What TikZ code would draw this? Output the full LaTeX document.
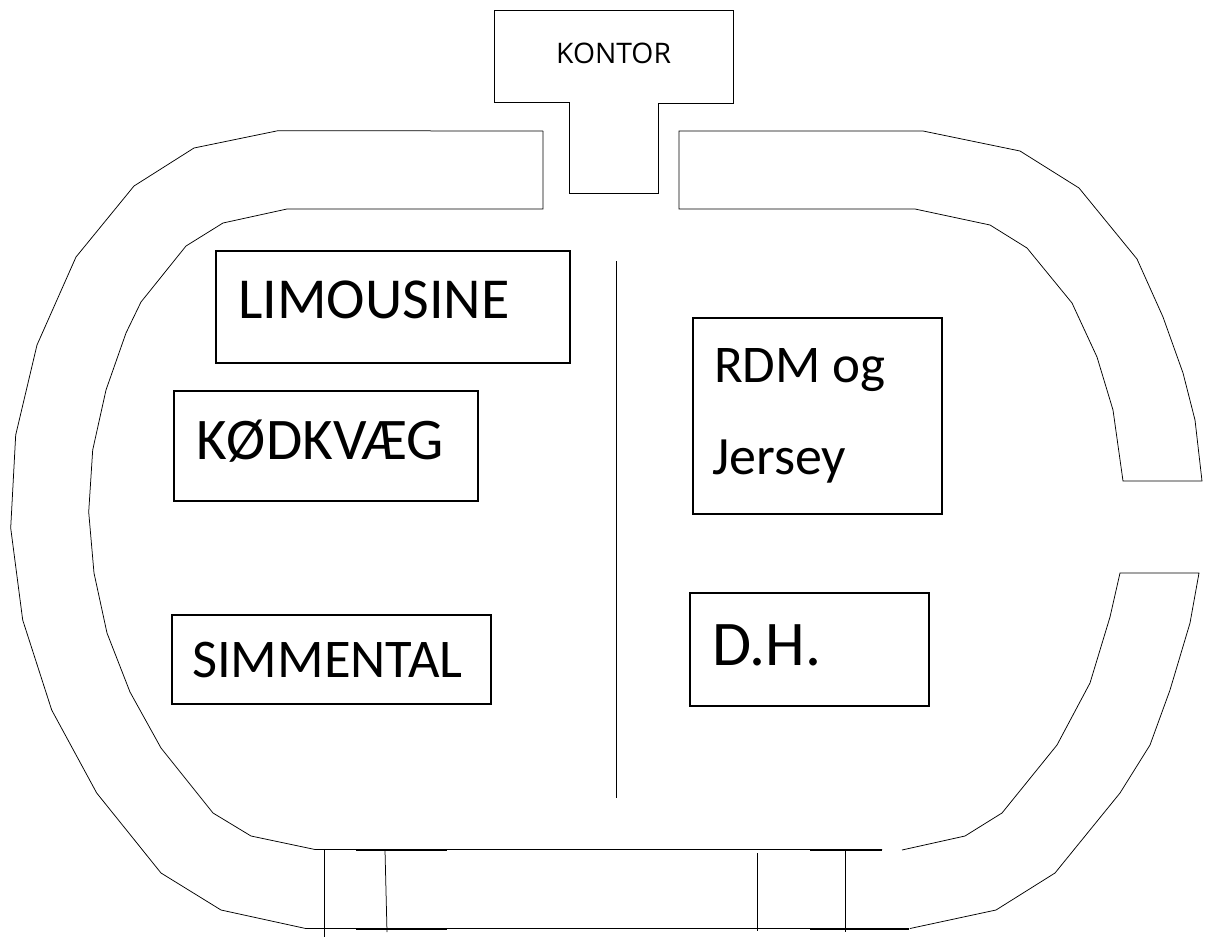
\documentclass[tikz,border=0pt]{standalone}
\usepackage{fontspec}
\setmainfont{Carlito}
\newfontfamily\kontorfont{Open Sans}
\tikzset{plan/.style={draw=black,line width=0.75pt,line join=miter},
boxline/.style={draw=black,line width=1.1pt,line join=miter},
thickseg/.style={draw=black,line width=2pt},
lab/.style={anchor=base west,inner sep=0pt,text=black}}
\begin{document}
\begin{tikzpicture}[x=1pt,y=-1pt]
\useasboundingbox (0,0) rectangle (1208,937);
\path[fill=white] (0,0) rectangle (1208,937);
\draw[plan] (494,10.5) -- (733,10.5) -- (733,103) -- (658,103) -- (658,193.5) -- (569,193.5) -- (569,102) -- (494,102) -- cycle;
\draw[plan] (543,131) -- (278,130.7) -- (194,148) -- (134,186) -- (76,257) -- (37,345) -- (15.7,435) -- (10.7,528) -- (22.7,620) -- (51.7,710) -- (96.7,793) -- (161,873) -- (221,910) -- (305.7,928.5) -- (909,928.5);
\draw[plan] (543,131) -- (543,209) -- (287,209) -- (223,223) -- (186,246) -- (141,302) -- (126,333) -- (106,390) -- (92.7,450) -- (88.7,512) -- (94,573) -- (107,633) -- (130,692) -- (161,748) -- (213,813) -- (251,836) -- (315,849.5) -- (882,849.5);
\draw[plan] (902,850) -- (965,836) -- (1002,813) -- (1057,745) -- (1090,683) -- (1110,617) -- (1120,573) -- (1199,573) -- (1190,623) -- (1170,690) -- (1150,745) -- (1120,793) -- (1055,873) -- (996,910) -- (910,928.5);
\draw[thickseg] (356,849.5) -- (447,849.5);
\draw[thickseg] (810,849.5) -- (882,849.5);
\draw[thickseg] (356,928.5) -- (447,928.5);
\draw[thickseg] (810,928.5) -- (909,928.5);
\draw[plan] (679,131) -- (923,131) -- (1020,151) -- (1079,188) -- (1137,259) -- (1163,317) -- (1183,373) -- (1195,420) -- (1202,481) -- (1123,481) -- (1113,410) -- (1097,357) -- (1072,303) -- (1027,248) -- (990,225) -- (915,209) -- (679,209) -- cycle;
\draw[plan] (616,261) -- (616,798);
\draw[plan] (324.5,850) -- (324.5,937);
\draw[plan] (385,850) -- (387,932);
\draw[plan] (757,853) -- (757,931);
\draw[plan] (845,850) -- (845,932);
\draw[boxline] (216,251) rectangle (570,363);
\draw[boxline] (174,391) rectangle (478,501);
\draw[boxline] (172,615) rectangle (491,704);
\draw[boxline] (693,318) rectangle (942,514);
\draw[boxline] (690,593) rectangle (929,706);
\node[lab,font=\kontorfont\fontsize{28.3pt}{28.3pt}\selectfont] (kontor) at (556,63) {KONTOR};
\node[lab,font=\fontsize{58pt}{58pt}\selectfont] (lim) at (238,318) {LIMOUSINE};
\node[lab,font=\fontsize{59pt}{59pt}\selectfont] (kod) at (196,459) {KØDKVÆG};
\node[lab,font=\fontsize{54.5pt}{54.5pt}\selectfont] (sim) at (192,677) {SIMMENTAL};
\node[lab,font=\fontsize{53pt}{53pt}\selectfont] (rdm) at (714,382) {RDM og};
\node[lab,font=\fontsize{54pt}{54pt}\selectfont] (jer) at (712,474) {Jersey};
\node[lab,font=\fontsize{63.6pt}{63.6pt}\selectfont] (dh) at (712,665) {D.H.};
\end{tikzpicture}
\end{document}
